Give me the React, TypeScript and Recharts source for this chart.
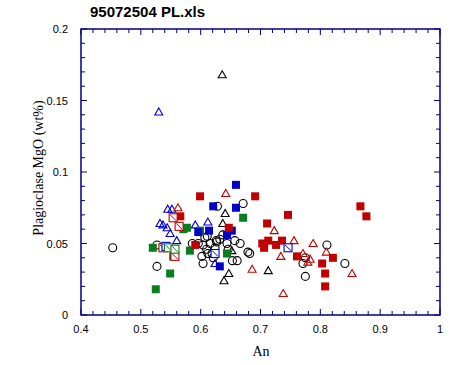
import React from "react"
import { ScatterChart, Scatter, XAxis, YAxis, ReferenceArea } from "recharts"

// plot box (px) - chart margins are derived from these
const W = 463
const H = 365
const LEFT = 81
const TOP = 29
const RIGHT = 440
const BOTTOM = 315
const Y_AXIS_W = 60
const X_AXIS_H = H - BOTTOM

const NAVY = "#000080"
const RED = "#c00000"
const BLUE = "#0000c8"
const GREEN = "#0a7d1e"

const xTicks = [
  0.4, 0.42, 0.44, 0.46, 0.48, 0.5, 0.52, 0.54, 0.56, 0.58, 0.6, 0.62, 0.64, 0.66, 0.68, 0.7,
  0.72, 0.74, 0.76, 0.78, 0.8, 0.82, 0.84, 0.86, 0.88, 0.9, 0.92, 0.94, 0.96, 0.98, 1,
]
const xLabels = [0.4, 0.5, 0.6, 0.7, 0.8, 0.9, 1]
const yTicks = [
  0, 0.01, 0.02, 0.03, 0.04, 0.05, 0.06, 0.07, 0.08, 0.09, 0.1, 0.11, 0.12, 0.13, 0.14, 0.15,
  0.16, 0.17, 0.18, 0.19, 0.2,
]
const yLabels = [0, 0.05, 0.1, 0.15, 0.2]

// [An, MgO]
const blackCircles = [
  [0.453, 0.047], [0.527, 0.034], [0.527, 0.049], [0.586, 0.05], [0.596, 0.05], [0.602, 0.041],
  [0.604, 0.036], [0.611, 0.055], [0.612, 0.043], [0.671, 0.078], [0.628, 0.076], [0.666, 0.05],
  [0.604, 0.049], [0.616, 0.05], [0.627, 0.051], [0.632, 0.053], [0.637, 0.056], [0.644, 0.05],
  [0.607, 0.054], [0.619, 0.043], [0.621, 0.04], [0.626, 0.052], [0.653, 0.038], [0.661, 0.038],
  [0.679, 0.044], [0.682, 0.043], [0.771, 0.036], [0.775, 0.027], [0.811, 0.049], [0.841, 0.036],
  [0.775, 0.04], [0.624, 0.047], [0.646, 0.046], [0.657, 0.052], [0.61, 0.046],
]
const blackTriangles = [
  [0.636, 0.168], [0.641, 0.071], [0.637, 0.064], [0.647, 0.029], [0.639, 0.024], [0.713, 0.031],
  [0.652, 0.045],
]
const blueTriangles = [
  [0.53, 0.142], [0.545, 0.074], [0.552, 0.074], [0.532, 0.064], [0.537, 0.063], [0.544, 0.061],
  [0.549, 0.057], [0.56, 0.052], [0.591, 0.063], [0.612, 0.065], [0.624, 0.036],
]
const blueSquares = [
  [0.659, 0.091], [0.621, 0.076], [0.659, 0.075], [0.596, 0.058], [0.614, 0.059], [0.652, 0.059],
  [0.644, 0.056], [0.632, 0.034],
]
const redSquares = [
  [0.599, 0.083], [0.566, 0.069], [0.591, 0.049], [0.691, 0.083], [0.746, 0.07], [0.711, 0.064],
  [0.703, 0.05], [0.713, 0.052], [0.706, 0.047], [0.726, 0.049], [0.736, 0.052], [0.761, 0.041],
  [0.803, 0.036], [0.808, 0.029], [0.808, 0.02], [0.647, 0.061], [0.821, 0.04], [0.867, 0.076],
  [0.877, 0.069],
]
const redTriangles = [
  [0.562, 0.075], [0.642, 0.085], [0.723, 0.059], [0.756, 0.052], [0.788, 0.05], [0.81, 0.044],
  [0.771, 0.043], [0.734, 0.041], [0.783, 0.039], [0.779, 0.037], [0.686, 0.032], [0.738, 0.015],
  [0.853, 0.029],
]
const greenSquares = [
  [0.599, 0.059], [0.577, 0.061], [0.571, 0.06], [0.52, 0.047], [0.554, 0.041], [0.582, 0.045],
  [0.549, 0.029], [0.525, 0.018], [0.671, 0.068], [0.644, 0.043],
]
const redBoxed = [[0.554, 0.068], [0.564, 0.062], [0.537, 0.047], [0.557, 0.041]]
const blueBoxed = [[0.746, 0.047], [0.624, 0.043], [0.542, 0.048]]
const greenBoxed = [[0.546, 0.047], [0.557, 0.046]]

const toPts = (arr: number[][]) => arr.map(([x, y]) => ({ x, y }))

const circle = (p: any) => (
  <circle cx={p.cx} cy={p.cy} r={4} fill="none" stroke="#000" strokeWidth={1.1} />
)
const triangle = (color: string) => (p: any) => (
  <path
    d={`M${p.cx},${p.cy - 4}L${p.cx + 4},${p.cy + 3}L${p.cx - 4},${p.cy + 3}Z`}
    fill="none"
    stroke={color}
    strokeWidth={1.1}
  />
)
const square = (color: string) => (p: any) => (
  <rect x={p.cx - 4} y={p.cy - 4} width={8} height={8} fill={color} />
)
const boxed = (color: string) => (p: any) => (
  <g>
    <rect x={p.cx - 4} y={p.cy - 4} width={8} height={8} fill="#fff" stroke={color} strokeWidth={1.1} />
    <line x1={p.cx - 3} y1={p.cy - 3} x2={p.cx + 3} y2={p.cy + 3} stroke={color} strokeWidth={1} />
  </g>
)

const tickFont = { fontFamily: "Liberation Sans, Arial, sans-serif", fontSize: 11, fill: "#000" }

function XTick(props: any) {
  const { x, payload } = props
  const major = xLabels.includes(payload.value)
  const len = major ? 6 : 4
  return (
    <g>
      <line x1={x} y1={BOTTOM} x2={x} y2={BOTTOM - len} stroke={NAVY} strokeWidth={1} />
      <line x1={x} y1={TOP} x2={x} y2={TOP + len} stroke={NAVY} strokeWidth={1} />
      {major && (
        <text x={x} y={333} textAnchor="middle" {...tickFont}>
          {String(payload.value)}
        </text>
      )}
    </g>
  )
}

function YTick(props: any) {
  const { y, payload } = props
  const major = yLabels.includes(payload.value)
  const len = major ? 6 : 4
  return (
    <g>
      <line x1={LEFT} y1={y} x2={LEFT + len} y2={y} stroke={NAVY} strokeWidth={1} />
      <line x1={RIGHT} y1={y} x2={RIGHT - len} y2={y} stroke={NAVY} strokeWidth={1} />
      {major && (
        <text x={68} y={y + 4} textAnchor="end" {...tickFont}>
          {String(payload.value)}
        </text>
      )}
    </g>
  )
}

export default function App() {
  return (
    <div style={{ position: "absolute", left: 0, top: 0, width: W, height: H, background: "#fff" }}>
      <ScatterChart
        width={W}
        height={H}
        margin={{ top: TOP, right: W - RIGHT, bottom: 0, left: LEFT - Y_AXIS_W }}
      >
        <XAxis
          type="number"
          dataKey="x"
          domain={[0.4, 1]}
          ticks={xTicks}
          interval={0}
          height={X_AXIS_H}
          axisLine={false}
          tickLine={false}
          tick={<XTick />}
          allowDataOverflow
        />
        <YAxis
          type="number"
          dataKey="y"
          domain={[0, 0.2]}
          ticks={yTicks}
          interval={0}
          width={Y_AXIS_W}
          axisLine={false}
          tickLine={false}
          tick={<YTick />}
          allowDataOverflow
        />
        <ReferenceArea x1={0.4} x2={1} y1={0} y2={0.2} fill="none" stroke={NAVY} strokeWidth={1.5} strokeOpacity={1} />
        <Scatter data={toPts(blackCircles)} shape={circle} isAnimationActive={false} />
        <Scatter data={toPts(blackTriangles)} shape={triangle("#000")} isAnimationActive={false} />
        <Scatter data={toPts(blueTriangles)} shape={triangle(BLUE)} isAnimationActive={false} />
        <Scatter data={toPts(redTriangles)} shape={triangle(RED)} isAnimationActive={false} />
        <Scatter data={toPts(greenSquares)} shape={square(GREEN)} isAnimationActive={false} />
        <Scatter data={toPts(blueSquares)} shape={square(BLUE)} isAnimationActive={false} />
        <Scatter data={toPts(redSquares)} shape={square(RED)} isAnimationActive={false} />
        <Scatter data={toPts(redBoxed)} shape={boxed(RED)} isAnimationActive={false} />
        <Scatter data={toPts(blueBoxed)} shape={boxed(BLUE)} isAnimationActive={false} />
        <Scatter data={toPts(greenBoxed)} shape={boxed(GREEN)} isAnimationActive={false} />
      </ScatterChart>
      <svg
        width={W}
        height={H}
        style={{ position: "absolute", left: 0, top: 0, pointerEvents: "none" }}
      >
        <text x={90} y={17} fontFamily="Liberation Sans, Arial, sans-serif" fontWeight="bold" fontSize={15}>
          95072504 PL.xls
        </text>
        <text x={261} y={356} textAnchor="middle" fontFamily="Liberation Serif, Times New Roman, serif" fontSize={14}>
          An
        </text>
        <text
          x={43}
          y={168}
          textAnchor="middle"
          transform="rotate(-90 43 168)"
          fontFamily="Liberation Serif, Times New Roman, serif"
          fontSize={14}
        >
          Plagioclase MgO (wt%)
        </text>
      </svg>
    </div>
  )
}
